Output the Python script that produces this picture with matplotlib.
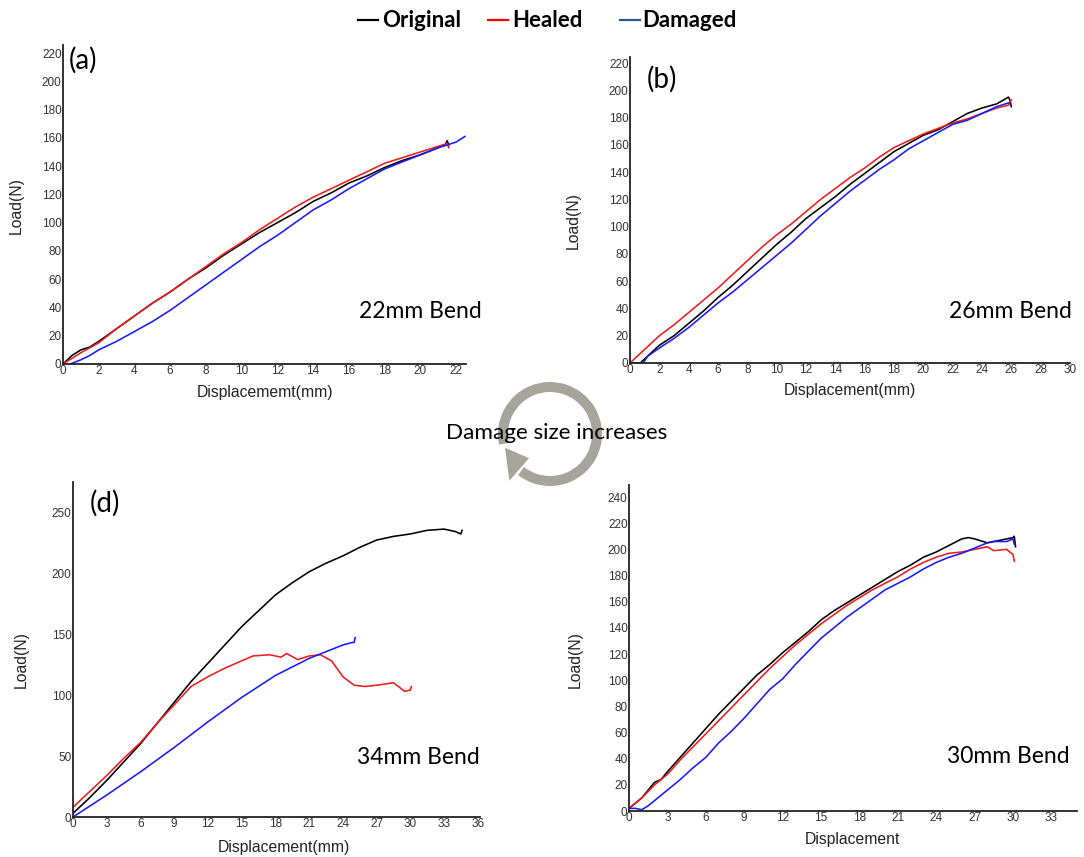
import math
import matplotlib
matplotlib.use("Agg")
import matplotlib.pyplot as plt
from matplotlib.patches import Arc, Polygon
from matplotlib.lines import Line2D

# ---- data ----
# (a) 22mm bend
a_orig_x = [0, 0.5, 1, 1.5, 2, 3, 4, 5, 6, 7, 8, 9, 10, 11, 12, 13, 14, 15, 16, 17, 18, 19, 20, 21, 21.4, 21.5, 21.6]
a_orig_y = [0, 6, 10, 12, 16, 25, 34, 43, 51, 60, 68, 77, 85, 93, 100, 107, 115, 121, 128, 133, 139, 144, 148, 153, 155, 158, 155]
a_heal_x = [0, 0.5, 1, 2, 3, 4, 5, 6, 7, 8, 9, 10, 11, 12, 13, 14, 15, 16, 17, 18, 19, 20, 21, 21.5, 21.6]
a_heal_y = [0, 4, 8, 15, 25, 34, 43, 51, 60, 69, 78, 86, 95, 103, 111, 118, 124, 130, 136, 142, 146, 150, 154, 156, 153]
a_dam_x = [0.4, 1, 1.5, 2, 3, 4, 5, 6, 7, 8, 9, 10, 11, 12, 13, 14, 15, 16, 17, 18, 19, 20, 21, 21.5, 22, 22.5]
a_dam_y = [0, 3, 6, 10, 16, 23, 30, 38, 47, 56, 65, 74, 83, 91, 100, 109, 116, 124, 131, 138, 143, 148, 153, 155, 157, 161]

# (b) 26mm bend
b_orig_x = [0, 0.7, 1, 2, 3, 4, 5, 6, 7, 8, 9, 10, 11, 12, 13, 14, 15, 16, 17, 18, 19, 20, 21, 22, 23, 24, 25, 25.8, 25.9, 26]
b_orig_y = [0, 0, 3, 13, 20, 29, 38, 48, 57, 67, 77, 87, 96, 106, 114, 122, 131, 139, 147, 155, 161, 167, 171, 177, 183, 187, 190, 195, 193, 188]
b_heal_x = [0, 1, 2, 3, 4, 5, 6, 7, 8, 9, 10, 11, 12, 13, 14, 15, 16, 17, 18, 19, 20, 21, 22, 23, 24, 25, 25.8, 26]
b_heal_y = [0, 10, 20, 28, 37, 46, 55, 65, 75, 85, 94, 102, 111, 120, 128, 136, 143, 151, 158, 163, 168, 172, 176, 179, 183, 187, 189, 193]
b_dam_x = [0, 0.9, 1.2, 2, 3, 4, 5, 6, 7, 8, 9, 10, 11, 12, 13, 14, 15, 16, 17, 18, 19, 20, 21, 22, 23, 24, 25, 25.9]
b_dam_y = [0, 0, 5, 11, 18, 26, 35, 44, 52, 61, 70, 79, 88, 98, 108, 117, 126, 134, 142, 149, 157, 163, 169, 175, 178, 183, 188, 191]

# (d) 34mm bend
d_orig_x = [0, 1.5, 3, 4.5, 6, 7.5, 9, 10.5, 12, 13.5, 15, 16.5, 18, 19.5, 21, 22.5, 24, 25.5, 27, 28.5, 30, 31.5, 33, 34, 34.5, 34.6]
d_orig_y = [3, 16, 30, 45, 60, 77, 94, 111, 126, 141, 156, 169, 182, 192, 201, 208, 214, 221, 227, 230, 232, 235, 236, 234, 232, 235]
d_heal_x = [0, 1.5, 3, 4.5, 6, 7.5, 9, 10.5, 12, 13.5, 15, 16, 17.5, 18.5, 19, 20, 21, 22, 23, 24, 25, 26, 27, 28.5, 29.5, 30, 30.1]
d_heal_y = [8, 21, 34, 48, 61, 77, 92, 107, 115, 122, 128, 132, 133, 131, 134, 129, 132, 133, 128, 115, 108, 107, 108, 110, 103, 104, 107]
d_dam_x = [0, 3, 6, 9, 12, 15, 18, 21, 24, 24.8, 25, 25.1]
d_dam_y = [0, 18, 37, 57, 78, 98, 116, 130, 141, 143, 143, 147]

# (c) 30mm bend
c_orig_x = [0, 0.5, 1, 1.5, 2, 2.5, 3, 4, 5, 6, 7, 8, 9, 10, 11, 12, 13, 14, 15, 16, 17, 18, 19, 20, 21, 22, 23, 24, 25, 26, 26.5, 27, 28, 29, 30, 30.1, 30.2]
c_orig_y = [2, 6, 10, 16, 22, 24, 30, 41, 52, 63, 74, 84, 94, 104, 112, 121, 129, 137, 146, 153, 159, 165, 171, 177, 183, 188, 194, 198, 203, 208, 209, 208, 205, 207, 209, 210, 202]
c_heal_x = [0, 1, 2, 3, 4, 5, 6, 7, 8, 9, 10, 11, 12, 13, 14, 15, 16, 17, 18, 19, 20, 21, 22, 23, 24, 25, 26, 27, 28, 28.5, 29.5, 30, 30.1]
c_heal_y = [2, 10, 20, 28, 39, 49, 59, 69, 79, 89, 99, 109, 118, 127, 135, 143, 150, 157, 163, 169, 174, 179, 185, 190, 194, 197, 198, 200, 202, 199, 200, 196, 191]
c_dam_x = [0, 0.5, 1, 1.5, 2, 3, 4, 5, 6, 7, 8, 9, 10, 11, 12, 13, 14, 15, 16, 17, 18, 19, 20, 21, 22, 23, 24, 25, 26, 27, 28, 28.5, 29.5, 30, 30.1]
c_dam_y = [2, 2, 1, 4, 8, 16, 24, 33, 41, 52, 61, 71, 82, 93, 101, 112, 122, 132, 140, 148, 155, 162, 169, 174, 179, 185, 190, 194, 197, 201, 205, 206, 206, 208, 204]

series_names = ["Original", "Healed", "Damaged"]
line_colors = ["black", "#ee1c1c", "#1a1aff"]

W, H = 1084, 857
fig = plt.figure(figsize=(W / 100, H / 100), dpi=100)

tick_font = {"family": "Liberation Sans", "size": 8.5, "color": "#333333"}
label_font = {"family": "Liberation Sans", "size": 11.3, "color": "#222222"}
note_family = "Lato"


def px_rect(l, t, r, b):
    return [l / W, (H - b) / H, (r - l) / W, (b - t) / H]


def make_panel(rect, xs, ys, xlim, ylim, xticks, yticks, xlabel, tag, tag_pos,
               note, note_pos, xl_pos, yl_pos):
    ax = fig.add_axes(px_rect(*rect))
    for x, y, c in zip(xs, ys, line_colors):
        ax.plot(x, y, color=c, lw=1.15)
    ax.set_xlim(*xlim)
    ax.set_ylim(*ylim)
    ax.set_xticks(xticks)
    ax.set_yticks(yticks)
    ax.spines[["top", "right"]].set_visible(False)
    for s in ["left", "bottom"]:
        ax.spines[s].set_linewidth(1.3)
        ax.spines[s].set_color("#222222")
    ax.tick_params(length=0, pad=1)
    for t in ax.get_xticklabels() + ax.get_yticklabels():
        t.set_fontfamily(tick_font["family"])
        t.set_fontsize(tick_font["size"])
        t.set_color(tick_font["color"])
    ax.set_xlabel(xlabel, **label_font)
    ax.set_ylabel("Load(N)", **label_font)
    ax.xaxis.set_label_coords(*xl_pos)
    ax.yaxis.set_label_coords(*yl_pos)
    if tag:
        ax.text(tag_pos[0], tag_pos[1], tag, transform=ax.transAxes, fontsize=20,
                family=note_family, ha="left", va="center")
    ax.text(note_pos[0], note_pos[1], note, transform=ax.transAxes, fontsize=16.5,
            family=note_family, ha="right", va="center", clip_on=False)
    return ax


make_panel((63, 45, 466, 364), [a_orig_x, a_heal_x, a_dam_x], [a_orig_y, a_heal_y, a_dam_y],
           (0, 22.56), (0, 225.7), range(0, 23, 2), range(0, 221, 20), "Displacememt(mm)",
           "(a)", (0.014, 0.953), "22mm Bend", (1.04, 0.166), (0.5, -0.066), (-0.097, 0.498))

make_panel((630, 57, 1070, 363), [b_orig_x, b_heal_x, b_dam_x], [b_orig_y, b_heal_y, b_dam_y],
           (0, 30), (0, 224.4), range(0, 31, 2), range(0, 221, 20), "Displacement(mm)",
           "(b)", (0.039, 0.928), "26mm Bend", (1.005, 0.167), (0.5, -0.065), (-0.111, 0.467))

make_panel((73, 482, 480, 817), [d_orig_x, d_heal_x, d_dam_x], [d_orig_y, d_heal_y, d_dam_y],
           (0, 36.2), (0, 274.6), range(0, 37, 3), range(0, 251, 50), "Displacement(mm)",
           "(d)", (0.040, 0.937), "34mm Bend", (1.0, 0.179), (0.518, -0.069), (-0.108, 0.469))

make_panel((629, 485, 1077, 811), [c_orig_x, c_heal_x, c_dam_x], [c_orig_y, c_heal_y, c_dam_y],
           (0, 35), (0, 249.2), range(0, 34, 3), range(0, 241, 20), "Displacement",
           None, None, "30mm Bend", (0.984, 0.166), (0.498, -0.064), (-0.103, 0.463))

# overlay in pixel units for legend and the circular arrow
ov = fig.add_axes([0, 0, 1, 1], zorder=5)
ov.set_xlim(0, W)
ov.set_ylim(0, H)
ov.axis("off")

legend_x = [(358, 382), (488, 512), (620, 642)]
legend_line_colors = ["black", "red", "#2f5597"]
for (lx, tx), name, c in zip(legend_x, series_names, legend_line_colors):
    ov.add_line(Line2D([lx, lx + 20], [H - 20, H - 20], color=c, lw=1.6))
    ov.text(tx, H - 20, name, fontsize=16, fontweight="bold", family=note_family,
            ha="left", va="center")

ring = "#a7a49b"
cx, cy, r = 550, H - 434, 47
ov.add_patch(Arc((cx, cy), 2 * r, 2 * r, theta1=232, theta2=192, lw=7.2, color=ring))
tip = (cx + r * math.cos(math.radians(197)), cy + r * math.sin(math.radians(197)))
b1 = (cx + 62 * math.cos(math.radians(229)), cy + 62 * math.sin(math.radians(229)))
b2 = (cx + 32 * math.cos(math.radians(229)), cy + 32 * math.sin(math.radians(229)))
ov.add_patch(Polygon([tip, b1, b2], closed=True, color=ring, lw=0))
ov.text(557, H - 433, "Damage size increases", fontsize=16.2, family=note_family,
        ha="center", va="center")

fig.savefig("out.png", dpi=100)
